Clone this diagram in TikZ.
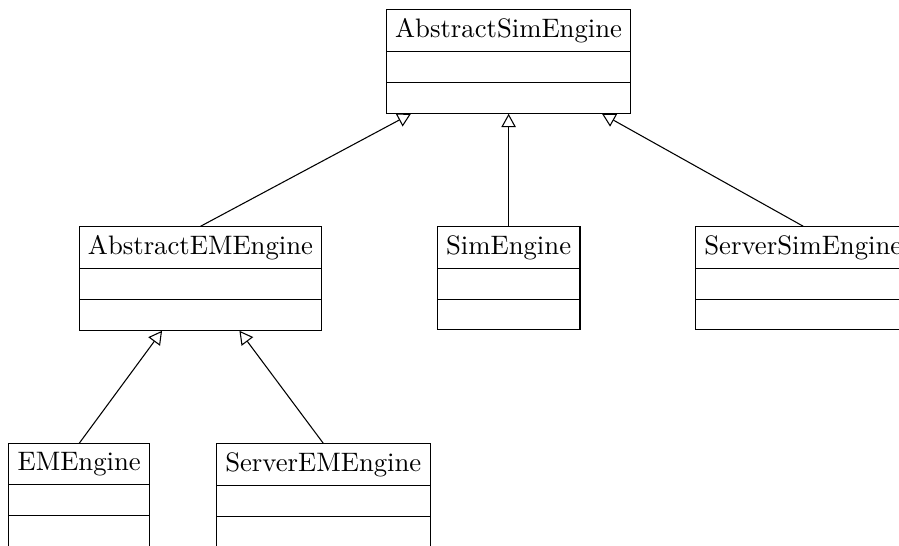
\documentclass[tikz,border=0pt]{standalone}
\usetikzlibrary{shapes.multipart,arrows.meta}
\tikzset{
  umlclass/.style={rectangle split, rectangle split parts=3, draw, fill=white,
    anchor=north, inner xsep=3.333pt, inner ysep=3.05pt, line width=0.4pt},
  inherit/.style={-{Triangle[open,length=5pt,width=5.4pt]}, line width=0.4pt}
}
\newcommand{\emptypart}{\rule{0pt}{5.0pt}}
\begin{document}
\begin{tikzpicture}[x=0.3745pt,y=-0.3745pt]
\useasboundingbox (0,0) rectangle (899,545);
\clip (0,0) rectangle (899,545);
\node[umlclass] (ase) at (508.6,9.3) {AbstractSimEngine\nodepart{second}\emptypart\nodepart{third}\emptypart};
\node[umlclass] (aem) at (200.5,226.3) {AbstractEMEngine\nodepart{second}\emptypart\nodepart{third}\emptypart};
\node[umlclass] (sim) at (508.6,226.3) {SimEngine\nodepart{second}\emptypart\nodepart{third}\emptypart};
\node[umlclass] (ssim) at (803.3,226.3) {ServerSimEngine\nodepart{second}\emptypart\nodepart{third}\emptypart};
\node[umlclass] (em) at (79.2,443.3) {EMEngine\nodepart{second}\emptypart\nodepart{third}\emptypart};
\node[umlclass] (sem) at (323.3,443.3) {ServerEMEngine\nodepart{second}\emptypart\nodepart{third}\emptypart};
\draw[inherit] (aem.north) -- (ase);
\draw[inherit] (sim.north) -- (ase);
\draw[inherit] (ssim.north) -- (ase);
\draw[inherit] (em.north) -- (aem);
\draw[inherit] (sem.north) -- (aem);
\end{tikzpicture}
\end{document}
